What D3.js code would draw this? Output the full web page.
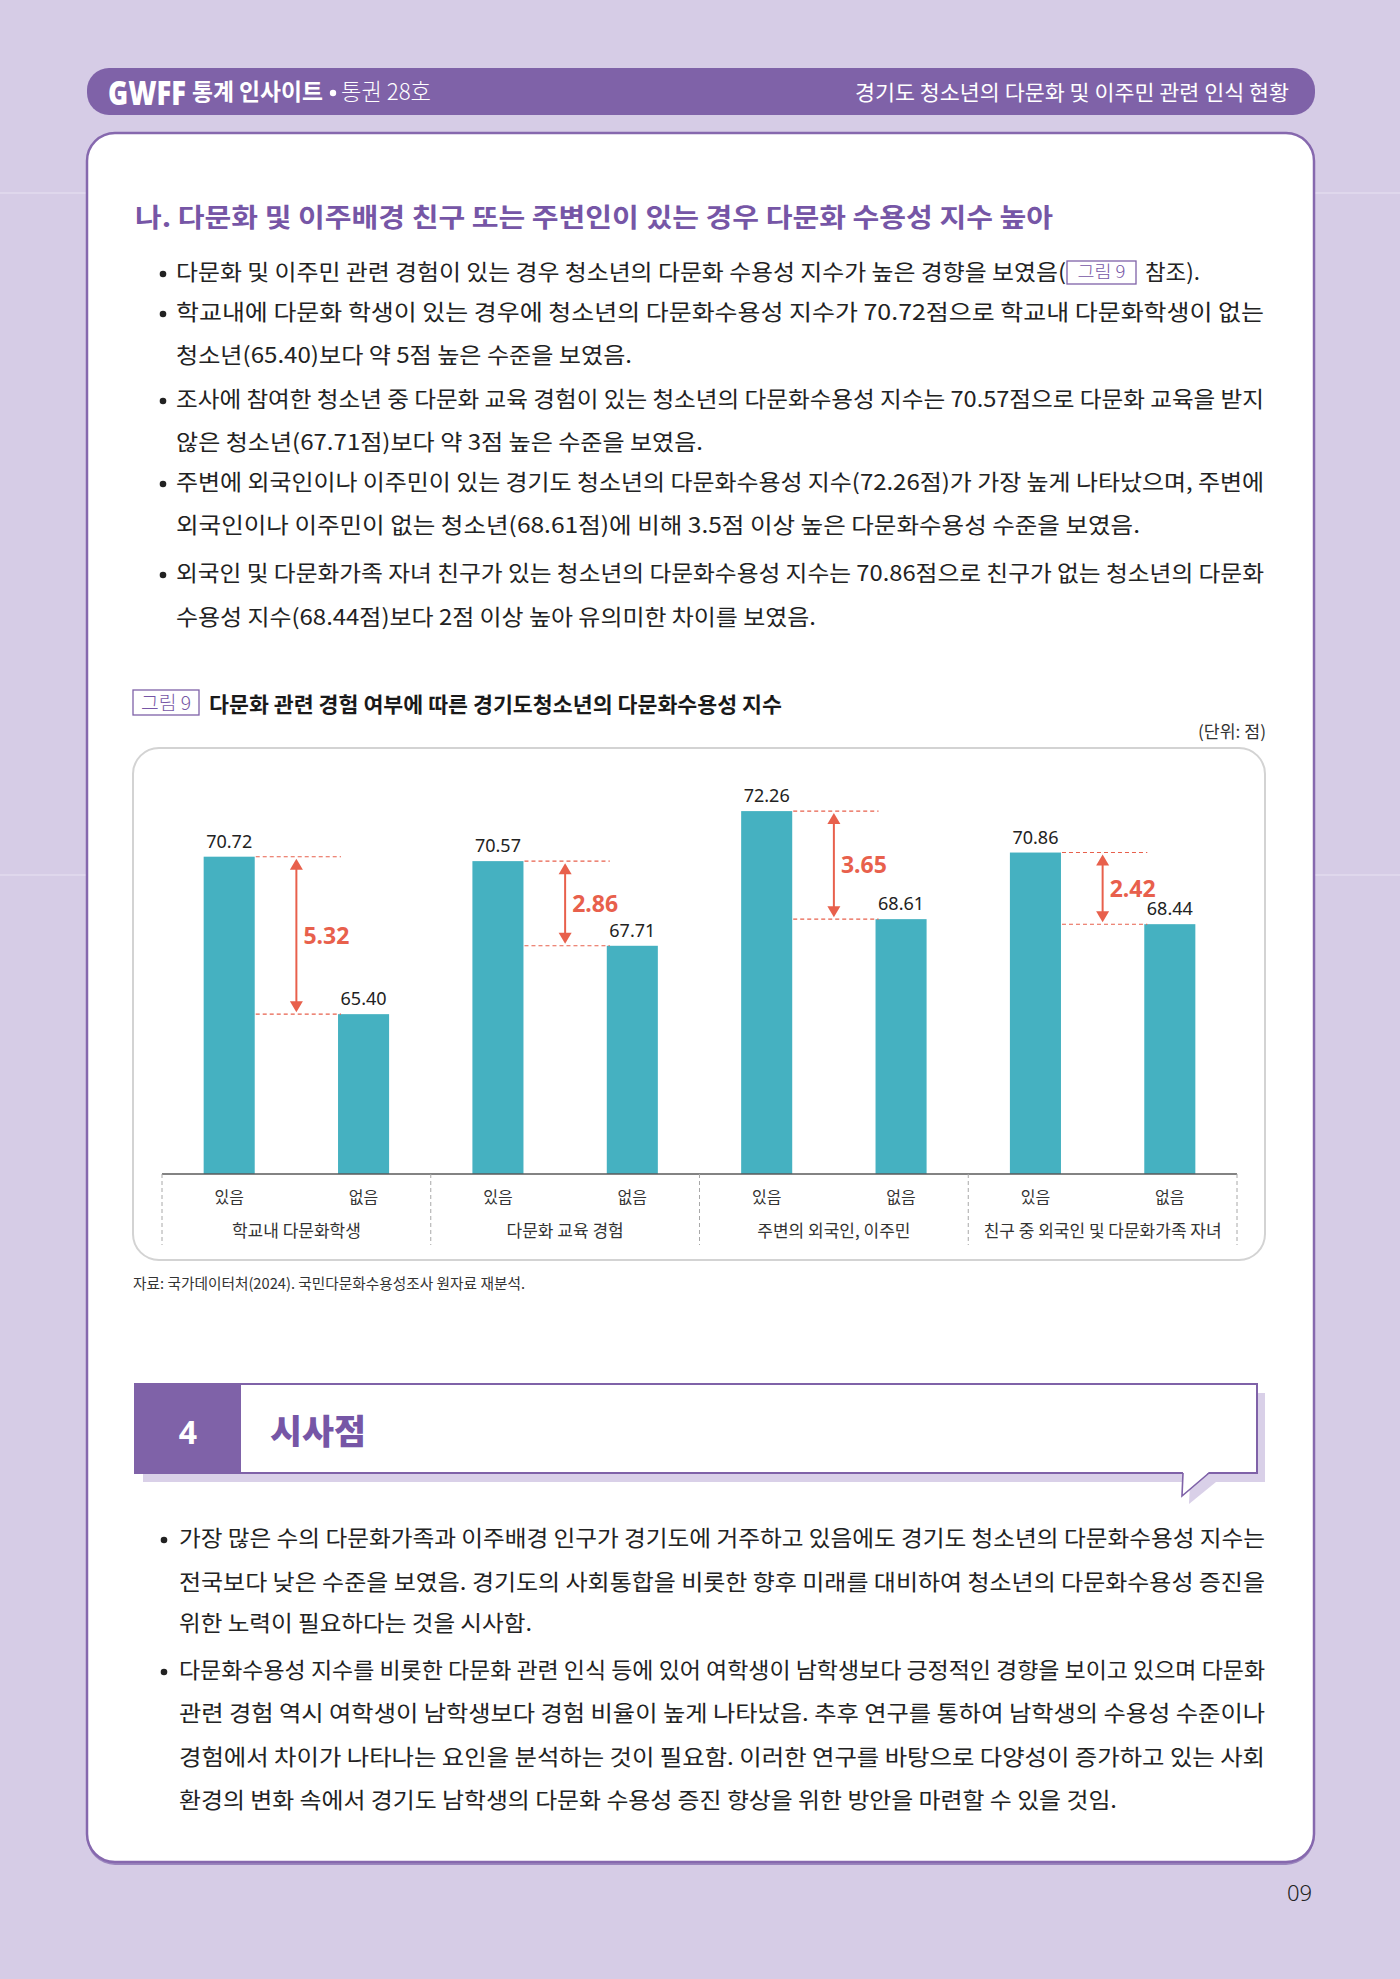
<!DOCTYPE html>
<html><head><meta charset="utf-8">
<script src="https://cdn.jsdelivr.net/npm/d3@7"></script>
<style>html,body{margin:0;padding:0;background:#d6cce6;}svg{display:block;}</style>
</head><body>
<script>
// ---------- DATA ----------
const groups = ["학교내 다문화학생", "다문화 교육 경험", "주변의 외국인, 이주민", "친구 중 외국인 및 다문화가족 자녀"];
const subLabels = ["있음", "없음"];
const withValues = [70.72, 70.57, 72.26, 70.86];
const withoutValues = [65.40, 67.71, 68.61, 68.44];

const headerLeft1 = "GWFF";
const headerLeft2 = "통계 인사이트";
const headerLeft3 = "통권 28호";
const headerRight = "경기도 청소년의 다문화 및 이주민 관련 인식 현황";
const sectionTitle = "나. 다문화 및 이주배경 친구 또는 주변인이 있는 경우 다문화 수용성 지수 높아";
const chartTitle = "다문화 관련 경험 여부에 따른 경기도청소년의 다문화수용성 지수";
const figLabel = "그림 9";
const unitLabel = "(단위: 점)";
const sourceText = "자료: 국가데이터처(2024). 국민다문화수용성조사 원자료 재분석.";
const section4Num = "4";
const section4Title = "시사점";
const pageNum = "09";

const topLines = [
  {t:"다문화 및 이주민 관련 경험이 있는 경우 청소년의 다문화 수용성 지수가 높은 경향을 보였음(", b:true},
  {t:"학교내에 다문화 학생이 있는 경우에 청소년의 다문화수용성 지수가 70.72점으로 학교내 다문화학생이 없는", b:true},
  {t:"청소년(65.40)보다 약 5점 높은 수준을 보였음.", b:false},
  {t:"조사에 참여한 청소년 중 다문화 교육 경험이 있는 청소년의 다문화수용성 지수는 70.57점으로 다문화 교육을 받지", b:true},
  {t:"않은 청소년(67.71점)보다 약 3점 높은 수준을 보였음.", b:false},
  {t:"주변에 외국인이나 이주민이 있는 경기도 청소년의 다문화수용성 지수(72.26점)가 가장 높게 나타났으며, 주변에", b:true},
  {t:"외국인이나 이주민이 없는 청소년(68.61점)에 비해 3.5점 이상 높은 다문화수용성 수준을 보였음.", b:false},
  {t:"외국인 및 다문화가족 자녀 친구가 있는 청소년의 다문화수용성 지수는 70.86점으로 친구가 없는 청소년의 다문화", b:true},
  {t:"수용성 지수(68.44점)보다 2점 이상 높아 유의미한 차이를 보였음.", b:false}
];
const line1Tail = "참조).";
const bottomLines = [
  {t:"가장 많은 수의 다문화가족과 이주배경 인구가 경기도에 거주하고 있음에도 경기도 청소년의 다문화수용성 지수는", b:true},
  {t:"전국보다 낮은 수준을 보였음. 경기도의 사회통합을 비롯한 향후 미래를 대비하여 청소년의 다문화수용성 증진을", b:false},
  {t:"위한 노력이 필요하다는 것을 시사함.", b:false},
  {t:"다문화수용성 지수를 비롯한 다문화 관련 인식 등에 있어 여학생이 남학생보다 긍정적인 경향을 보이고 있으며 다문화", b:true},
  {t:"관련 경험 역시 여학생이 남학생보다 경험 비율이 높게 나타났음. 추후 연구를 통하여 남학생의 수용성 수준이나", b:false},
  {t:"경험에서 차이가 나타나는 요인을 분석하는 것이 필요함. 이러한 연구를 바탕으로  다양성이 증가하고 있는 사회", b:false},
  {t:"환경의 변화 속에서 경기도 남학생의 다문화 수용성 증진 향상을 위한 방안을 마련할 수 있을 것임.", b:false}
];

// ---------- LAYOUT ----------
const FONT = "'Noto Sans CJK KR','Noto Sans',sans-serif";
const PURPLE = "#7f62a8", PURPLE_T = "#7656a6", LAV = "#d6cce6", TEAL = "#45b1c1", RED = "#e8604c";
const topY = [272, 312, 355, 399, 442, 482, 525, 573, 617];
const topEnd = [1066, 1264, 632, 1264, 703, 1264, 1140, 1264, 816];
const botY = [1538, 1582, 1623, 1670, 1713, 1757, 1800];
const botEnd = [1265, 1265, 532, 1265, 1265, 1265, 1117];

const svg = d3.select("body").append("svg").attr("width", 1400).attr("height", 1979)
  .attr("font-family", FONT);

function txt(g, x, y, s, o = {}) {
  const t = g.append("text").attr("x", x).attr("y", y).attr("dy", o.dy ?? "0.36em").text(s)
    .attr("font-size", o.size || 22).attr("font-weight", o.weight || 400)
    .attr("fill", o.fill || "#222").attr("text-anchor", o.anchor || "start");
  if (o.width) t.attr("textLength", o.width).attr("lengthAdjust", "spacingAndGlyphs");
  if (o.family) t.attr("font-family", o.family);
  return t;
}

// background
svg.append("rect").attr("width", 1400).attr("height", 1979).attr("fill", LAV);
[193, 875].forEach(yy => svg.append("line").attr("x1", 0).attr("x2", 1400).attr("y1", yy).attr("y2", yy)
  .attr("stroke", "#e2dbee").attr("stroke-width", 1.5));

// header bar
svg.append("rect").attr("x", 87).attr("y", 68).attr("width", 1228).attr("height", 47).attr("rx", 22).attr("fill", PURPLE);
txt(svg, 108, 105, headerLeft1, {dy: 0, size: 34, weight: 900, fill: "#fff", width: 78, family: "'Noto Sans',sans-serif"});
txt(svg, 192, 92, headerLeft2, {size: 23, weight: 700, fill: "#fff", width: 131});
svg.append("circle").attr("cx", 333).attr("cy", 93).attr("r", 3.2).attr("fill", "#fff");
txt(svg, 341, 92, headerLeft3, {size: 23, weight: 300, fill: "#fff", width: 90});
txt(svg, 855, 92, headerRight, {size: 21, weight: 400, fill: "#fff", width: 434});

// white card
svg.append("rect").attr("x", 87).attr("y", 135).attr("width", 1227).attr("height", 1730).attr("rx", 28).attr("fill", "#9a84bd");
svg.append("rect").attr("x", 87).attr("y", 133).attr("width", 1227).attr("height", 1729).attr("rx", 28)
  .attr("fill", "#fff").attr("stroke", "#8668ae").attr("stroke-width", 2.5);

// section title
txt(svg, 135, 218, sectionTitle, {size: 26, weight: 700, fill: PURPLE_T, width: 918});

// top text
topLines.forEach((l, i) => {
  if (l.b) svg.append("circle").attr("cx", 163).attr("cy", topY[i] + 2).attr("r", 3.3).attr("fill", "#222");
  txt(svg, 176, topY[i], l.t, {size: 22, width: topEnd[i] - 176});
});
svg.append("rect").attr("x", 1067).attr("y", 261).attr("width", 69).attr("height", 23)
  .attr("fill", "none").attr("stroke", PURPLE).attr("stroke-width", 1.3);
txt(svg, 1101.5, 272, figLabel, {size: 17, weight: 300, fill: PURPLE_T, anchor: "middle", width: 48});
txt(svg, 1145, 272, line1Tail, {size: 22, width: 55});

// chart caption
svg.append("rect").attr("x", 133).attr("y", 690).attr("width", 66).attr("height", 25)
  .attr("fill", "none").attr("stroke", PURPLE).attr("stroke-width", 1.3);
txt(svg, 166, 703, figLabel, {size: 19, weight: 300, fill: PURPLE_T, anchor: "middle", width: 50});
txt(svg, 209, 704, chartTitle, {size: 21, weight: 700, fill: "#1a1a1a", width: 573});
txt(svg, 1266, 732, unitLabel, {size: 17, fill: "#333", anchor: "end", width: 68});

// chart box
svg.append("rect").attr("x", 133).attr("y", 748).attr("width", 1132).attr("height", 512).attr("rx", 26)
  .attr("fill", "#fff").attr("stroke", "#d3d3d3").attr("stroke-width", 2);

// scales
const x0 = d3.scaleBand().domain(groups).range([162, 1237]);
const x1 = d3.scaleBand().domain(subLabels).range([0, x0.bandwidth()]).paddingInner(0.62).paddingOuter(0.31);
const y = d3.scaleLinear().domain([60, 74]).range([1174, 1174 - 14 * 29.6]);

const rows = groups.map((g, i) => ({g, w: withValues[i], n: withoutValues[i]}));
const chart = svg.append("g");

rows.forEach(r => {
  const vals = [r.w, r.n];
  subLabels.forEach((s, j) => {
    const bx = x0(r.g) + x1(s);
    chart.append("rect").attr("x", bx).attr("y", y(vals[j])).attr("width", x1.bandwidth())
      .attr("height", y(60) - y(vals[j])).attr("fill", TEAL);
    txt(chart, bx + x1.bandwidth() / 2, y(vals[j]) - 9, vals[j].toFixed(2), {dy: 0, size: 18, fill: "#222", anchor: "middle", family: "'Noto Sans',sans-serif"});
    txt(chart, bx + x1.bandwidth() / 2, 1197, s, {size: 16, fill: "#333", anchor: "middle"});
  });
  // difference annotation
  const xa = x0(r.g) + x1("있음") + x1.bandwidth() + 1;
  const xb = x0(r.g) + x1("없음") + 3;
  [r.w, r.n].forEach(v => chart.append("line").attr("x1", xa).attr("x2", xb).attr("y1", y(v)).attr("y2", y(v))
    .attr("stroke", RED).attr("stroke-width", 1.1).attr("stroke-dasharray", "4,3"));
  const cx = x0(r.g) + x0.bandwidth() / 2;
  const yt = y(r.w) + 2, yb = y(r.n) - 2;
  chart.append("line").attr("x1", cx).attr("x2", cx).attr("y1", yt + 8).attr("y2", yb - 8)
    .attr("stroke", RED).attr("stroke-width", 2);
  chart.append("path").attr("d", `M${cx},${yt} L${cx - 6.5},${yt + 11} L${cx + 6.5},${yt + 11} Z`).attr("fill", RED);
  chart.append("path").attr("d", `M${cx},${yb} L${cx - 6.5},${yb - 11} L${cx + 6.5},${yb - 11} Z`).attr("fill", RED);
  txt(chart, cx + 7, (y(r.w) + y(r.n)) / 2, (r.w - r.n).toFixed(2), {size: 23, weight: 700, fill: RED, family: "'Noto Sans',sans-serif"});
  txt(chart, cx, 1231, r.g, {size: 17, fill: "#333", anchor: "middle"});
});

// axis line and dashed separators
chart.append("line").attr("x1", 162).attr("x2", 1237).attr("y1", y(60)).attr("y2", y(60))
  .attr("stroke", "#5a5a5a").attr("stroke-width", 1.6);
const seps = groups.map(g => x0(g)).concat([x0.range()[1]]);
seps.forEach(sx => chart.append("line").attr("x1", sx).attr("x2", sx).attr("y1", y(60)).attr("y2", 1245)
  .attr("stroke", "#a8a8a8").attr("stroke-width", 1).attr("stroke-dasharray", "4,3"));

// source
txt(svg, 133, 1284, sourceText, {size: 15, fill: "#333", width: 392});

// section 4 box
svg.append("rect").attr("x", 143).attr("y", 1393).attr("width", 1122).attr("height", 89).attr("fill", "#d9d0e8");
svg.append("path").attr("d", "M1190,1482 L1189,1504 L1216,1482 Z").attr("fill", "#d9d0e8");
svg.append("rect").attr("x", 135).attr("y", 1384).attr("width", 1122).attr("height", 89)
  .attr("fill", "#fff").attr("stroke", PURPLE).attr("stroke-width", 2);
svg.append("path").attr("d", "M1183,1472 L1182,1496 L1209,1472 Z").attr("fill", "#fff");
svg.append("path").attr("d", "M1183,1473 L1182,1496 L1209,1473").attr("fill", "none").attr("stroke", PURPLE).attr("stroke-width", 1.6);
svg.append("rect").attr("x", 135).attr("y", 1384).attr("width", 106).attr("height", 89).attr("fill", PURPLE);
txt(svg, 188, 1432, section4Num, {size: 32, weight: 700, fill: "#fff", anchor: "middle", family: "'Noto Sans',sans-serif"});
txt(svg, 270, 1432, section4Title, {size: 34, weight: 900, fill: PURPLE_T, width: 96});

// bottom text
bottomLines.forEach((l, i) => {
  if (l.b) svg.append("circle").attr("cx", 164).attr("cy", botY[i] + 2).attr("r", 3.3).attr("fill", "#222");
  txt(svg, 179, botY[i], l.t, {size: 22, width: botEnd[i] - 179});
});

// page number
txt(svg, 1312, 1893, pageNum, {size: 22, weight: 300, fill: "#222", anchor: "end", family: "'Noto Sans',sans-serif"});
</script>
</body></html>
